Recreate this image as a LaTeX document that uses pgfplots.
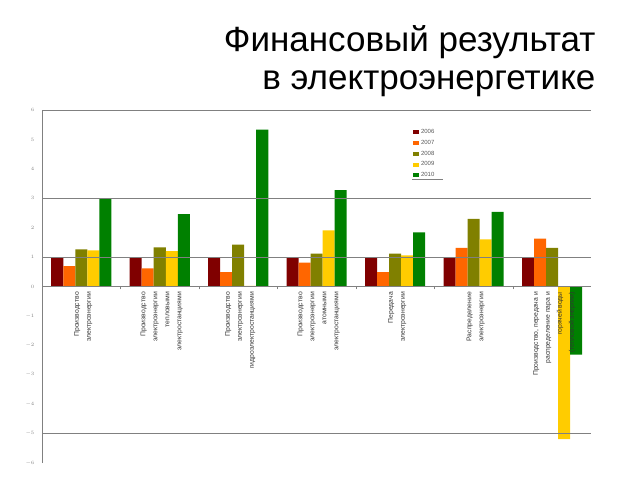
\documentclass[border=0pt]{standalone}
\usepackage{pgfplots}
\pgfplotsset{compat=1.18}
\usepackage{fontspec}
\setmainfont{Liberation Sans}
\definecolor{c06}{HTML}{800000}
\definecolor{c07}{HTML}{FF6600}
\definecolor{c08}{HTML}{808000}
\definecolor{c09}{HTML}{FFCC00}
\definecolor{c10}{HTML}{008000}
\definecolor{gridc}{HTML}{808080}
\pgfplotsset{layers/mylayers/.define layer set={axis background,axis grid,pre main,axis ticks,axis lines,axis tick labels,main,axis descriptions,axis foreground}{}}
\begin{document}
\begin{tikzpicture}[x=1pt,y=1pt]
\path (0,0) rectangle (640,480);
\begin{axis}[
  set layers=mylayers,
  every axis plot/.append style={on layer=pre main},
  at={(42pt,17pt)}, anchor=south west,
  scale only axis, width=549.5pt, height=353pt,
  xmin=-0.5, xmax=6.5, ymin=-6, ymax=6,
  ybar=0pt, bar width=12pt,
  axis y line=left, axis x line=middle,
  axis line style={-, draw=gridc, line width=0.6pt},
  xtick={0,...,6},
  minor xtick={0.5,1.5,...,5.5},
  xticklabels={
    {Производство\\электроэнергии},
    {Производство\\электроэнергии\\тепловыми\\электростанциями},
    {Производство\\электроэнергии\\гидроэлектростанциями},
    {Производство\\электроэнергии\\атомными\\электростанциями},
    {Передача\\электроэнергии},
    {Распределение\\электроэнергии},
    {Производство, передача и\\распределение пара и\\горячей воды\\(тепловой энергии)}},
  xticklabel style={rotate=90, anchor=east, align=right,
    font=\fontsize{6.8}{12}\selectfont, text=black!80, yshift=-2pt},
  major x tick style={draw=none},
  minor x tick style={draw=gridc, line width=0.5pt},
  x tick style={yshift=-1.5pt},
  minor tick length=3pt,
  ytick={-6,...,6},
  yticklabel style={font=\fontsize{5.5}{6}\selectfont, text=black!50, xshift=-2pt},
  major y tick style={draw=none},
  extra y ticks={-5,1,3,6},
  extra y tick labels={},
  extra y tick style={grid=major, major tick length=8pt,
    tick style={draw=gridc, line width=0.6pt}},
  major grid style={draw=gridc, line width=0.6pt},
  hide obscured x ticks=false,
  legend style={at={(0.673,0.955)}, anchor=north west, draw=none, fill=none,
    font=\fontsize{6}{7}\selectfont, text=black!65,
    row sep=1.2pt, inner sep=1pt},
  legend cell align=left,
  legend image code/.code={\fill[#1,draw=none] (0pt,-2pt) rectangle (6pt,2pt);},
  clip=false,
]
\addplot[fill=c06, draw=none] coordinates {(0,1) (1,1) (2,1) (3,1) (4,1) (5,1) (6,1)};
\addplot[fill=c07, draw=none] coordinates {(0,0.69) (1,0.62) (2,0.49) (3,0.81) (4,0.49) (5,1.31) (6,1.63)};
\addplot[fill=c08, draw=none] coordinates {(0,1.26) (1,1.33) (2,1.42) (3,1.12) (4,1.12) (5,2.30) (6,1.31)};
\addplot[fill=c09, draw=none] coordinates {(0,1.23) (1,1.20) (2,0.02) (3,1.91) (4,1.06) (5,1.60) (6,-5.19)};
\addplot[fill=c10, draw=none] coordinates {(0,3.00) (1,2.46) (2,5.33) (3,3.28) (4,1.84) (5,2.54) (6,-2.32)};
\legend{2006,2007,2008,2009,2010}
\end{axis}
\draw[gridc, line width=0.5pt] (412,301) -- (443,301);
\node[anchor=base east, font=\fontsize{35}{38}\selectfont] at (599,428) {Финансовый результат};
\node[anchor=base east, font=\fontsize{35}{38}\selectfont] at (599,390) {в электроэнергетике};
\end{tikzpicture}
\end{document}
